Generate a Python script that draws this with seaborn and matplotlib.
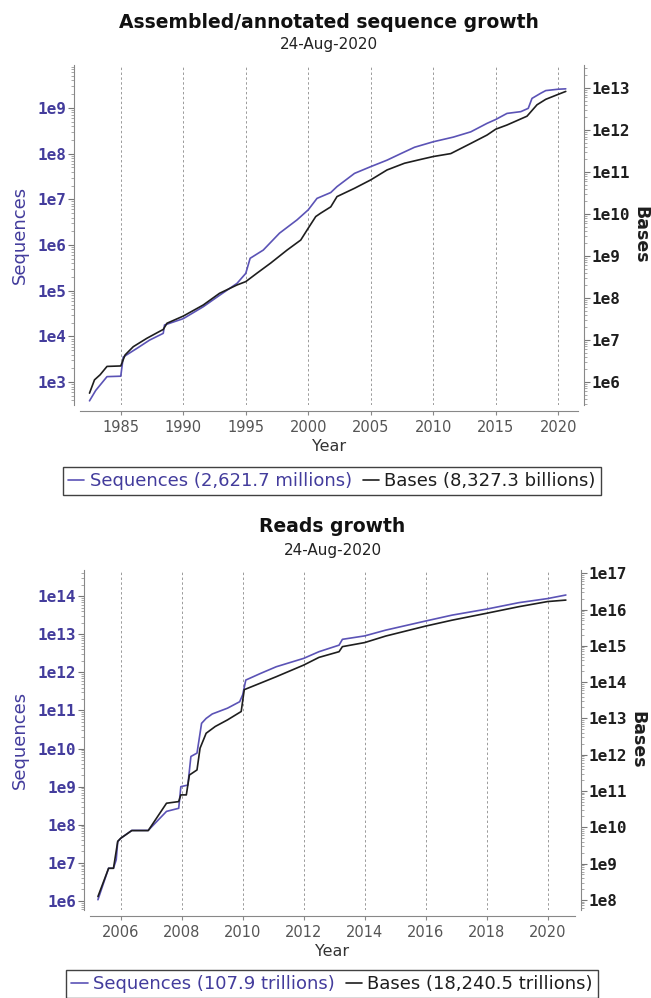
import numpy as np
import matplotlib
matplotlib.use("Agg")
import matplotlib.pyplot as plt
from matplotlib.ticker import LogLocator, FuncFormatter, NullFormatter, FixedLocator
from matplotlib.lines import Line2D
import seaborn as sns

# ---- dados (painel superior: assembled/annotated) ----
asm_seq_year = [1982.5, 1983.0, 1983.9, 1985.0, 1985.2, 1986.3, 1987.3, 1988.4, 1988.5,
                1990.0, 1991.6, 1992.9, 1994.3, 1995.0, 1995.35, 1996.4, 1997.7, 1999.1,
                2000.0, 2000.7, 2001.8, 2002.3, 2003.7, 2005.0, 2006.3, 2007.4, 2008.5,
                2010.0, 2011.6, 2013.0, 2014.3, 2015.0, 2015.9, 2017.0, 2017.6, 2017.9,
                2018.6, 2019.0, 2020.0, 2020.6]
asm_sequences = [390, 660, 1320, 1350, 3550, 5500, 8300, 11700, 17800,
                 24500, 44700, 79400, 1.45e5, 2.4e5, 5.13e5, 7.76e5, 1.82e6, 3.55e6,
                 5.9e6, 1.05e7, 1.41e7, 1.9e7, 3.7e7, 5.2e7, 7.2e7, 1.0e8, 1.38e8,
                 1.82e8, 2.3e8, 3.0e8, 4.6e8, 5.6e8, 7.6e8, 8.3e8, 9.8e8, 1.62e9,
                 2.1e9, 2.4e9, 2.57e9, 2.62e9]

asm_base_year = [1982.5, 1982.9, 1983.35, 1983.9, 1985.0, 1985.35, 1986.0, 1987.1, 1988.4,
                 1988.7, 1990.0, 1991.6, 1992.9, 1994.3, 1995.0, 1995.9, 1997.0, 1998.3,
                 1999.4, 2000.0, 2000.6, 2001.0, 2001.8, 2002.3, 2003.7, 2005.0, 2006.3,
                 2007.7, 2009.0, 2010.0, 2011.4, 2013.0, 2014.3, 2015.0, 2015.9, 2017.5,
                 2018.3, 2019.0, 2020.0, 2020.6]
asm_bases = [5.4e5, 1.12e6, 1.48e6, 2.34e6, 2.4e6, 4.4e6, 6.9e6, 1.1e7, 1.78e7,
             2.5e7, 3.7e7, 6.8e7, 1.29e8, 2.04e8, 2.45e8, 3.9e8, 6.8e8, 1.38e9,
             2.4e9, 4.6e9, 8.7e9, 1.05e10, 1.48e10, 2.6e10, 4.1e10, 6.5e10, 1.12e11,
             1.62e11, 2.0e11, 2.34e11, 2.75e11, 4.8e11, 7.6e11, 1.05e12, 1.32e12, 2.14e12,
             4.0e12, 5.4e12, 7.1e12, 8.33e12]

# ---- painel inferior: reads ----
reads_year = [2005.25, 2005.6, 2005.76, 2005.85, 2005.9, 2006.0, 2006.36, 2006.9, 2007.5,
              2007.9, 2007.97, 2008.2, 2008.3, 2008.5, 2008.65, 2008.8, 2009.0, 2009.5,
              2009.9, 2010.0, 2010.1, 2010.57, 2011.1, 2012.0, 2012.5, 2013.16, 2013.27,
              2014.0, 2014.69, 2016.0, 2016.87, 2018.0, 2019.06, 2020.0, 2020.6]
reads_sequences = [1.07e6, 7.2e6, 7.2e6, 1.2e7, 3.6e7, 4.4e7, 7.1e7, 7.1e7, 2.24e8,
                   2.7e8, 1.0e9, 1.1e9, 6.2e9, 7.6e9, 4.6e10, 6.2e10, 8.1e10, 1.15e11,
                   1.7e11, 2.6e11, 6.3e11, 9.3e11, 1.41e12, 2.34e12, 3.5e12, 5.2e12, 7.4e12,
                   9.1e12, 1.29e13, 2.24e13, 3.2e13, 4.6e13, 6.8e13, 8.7e13, 1.079e14]

reads_base_year = [2005.25, 2005.6, 2005.76, 2005.9, 2006.0, 2006.36, 2006.9, 2007.5, 2007.9,
                   2007.97, 2008.15, 2008.25, 2008.5, 2008.6, 2008.8, 2009.1, 2009.5, 2009.95,
                   2010.05, 2010.57, 2011.1, 2012.0, 2012.5, 2013.16, 2013.27, 2014.0, 2014.69,
                   2016.0, 2016.87, 2018.0, 2019.06, 2020.0, 2020.6]
reads_bases = [1.23e8, 7.4e8, 7.4e8, 4.1e9, 5.0e9, 8.1e9, 8.1e9, 4.6e10, 5.1e10,
               7.8e10, 7.8e10, 2.75e11, 3.8e11, 1.51e12, 3.9e12, 6.0e12, 9.1e12, 1.55e13,
               6.2e13, 9.3e13, 1.41e14, 2.95e14, 4.8e14, 6.9e14, 9.5e14, 1.23e15, 1.86e15,
               3.5e15, 5.1e15, 7.9e15, 1.2e16, 1.66e16, 1.824e16]

asm_xticks = [1985, 1990, 1995, 2000, 2005, 2010, 2015, 2020]
reads_xticks = [2006, 2008, 2010, 2012, 2014, 2016, 2018, 2020]

COR_SEQ = "#5b53b6"
COR_SEQ_TXT = "#433c9c"
COR_BASE = "#1e1e1e"

sns.set_style("white")
plt.rcParams["font.family"] = ["DejaVu Sans"]

fig = plt.figure(figsize=(6.51, 9.98), dpi=100)
W, H = 651, 998


def rect(x0, y0, x1, y1):
    return [x0 / W, 1 - y1 / H, (x1 - x0) / W, (y1 - y0) / H]


def fmt_exp(v, p):
    if v <= 0:
        return ""
    return f"1e{int(round(np.log10(v)))}"


def painel(box, titulo, sy, sv, by, bv, xlim, xticks, ylim_l, ylim_r,
           txt_seq, txt_base, leg_y):
    ax = fig.add_axes(rect(*box))
    sns.lineplot(x=sy, y=sv, ax=ax, color=COR_SEQ, linewidth=1.2, estimator=None)
    ax.set_yscale("log")
    ax.set_xlim(*xlim)
    ax.set_ylim(*ylim_l)

    ax2 = ax.twinx()
    sns.lineplot(x=by, y=bv, ax=ax2, color=COR_BASE, linewidth=1.2, estimator=None)
    ax2.set_yscale("log")
    ax2.set_ylim(*ylim_r)

    for a in (ax, ax2):
        a.spines["top"].set_visible(False)
        for s in ("left", "right", "bottom"):
            a.spines[s].set_position(("outward", 4))
            a.spines[s].set_color("#888888")
        a.yaxis.set_major_locator(LogLocator(base=10, numticks=30))
        a.yaxis.set_minor_locator(LogLocator(base=10, subs=np.arange(2, 10), numticks=30))
        a.yaxis.set_major_formatter(FuncFormatter(fmt_exp))
        a.yaxis.set_minor_formatter(NullFormatter())
        a.tick_params(axis="y", which="major", length=4, width=0.8, color="#777777")
        a.tick_params(axis="y", which="minor", length=2, width=0.6, color="#999999")
    ax.spines["right"].set_visible(False)
    ax2.spines["left"].set_visible(False)
    ax2.spines["bottom"].set_visible(False)

    ax.tick_params(axis="y", which="both", left=True, labelsize=11.5, labelcolor=COR_SEQ_TXT, pad=2)
    ax2.tick_params(axis="y", which="both", right=True, labelsize=11.5, labelcolor=COR_BASE, pad=2)
    for lab in ax.get_yticklabels() + ax2.get_yticklabels():
        lab.set_family("DejaVu Sans Mono")
        lab.set_fontweight("bold")

    ax.xaxis.set_major_locator(FixedLocator(xticks))
    ax.tick_params(axis="x", length=3, color="#888888", labelsize=10.5, labelcolor="#555555", bottom=True)
    ax.grid(False)
    ax2.grid(False)
    for xt in xticks:
        ax.axvline(xt, color="#9a9a9a", linestyle=(0, (2.5, 2.5)), linewidth=0.7, zorder=0)

    ax.set_xlabel("Year", fontsize=11.5, color="#333333", labelpad=3)
    ax.set_ylabel("Sequences", fontsize=13, color=COR_SEQ_TXT, labelpad=6)
    ax2.set_ylabel("Bases", fontsize=12.5, color=COR_BASE, fontweight="bold",
                   rotation=-90, labelpad=14)

    cx = (box[0] + box[2]) / 2 / W
    fig.text(cx, 1 - (box[1] - 43) / H, titulo, ha="center", va="center",
             fontsize=13.5, fontweight="bold", color="#111111")
    fig.text(cx, 1 - (box[1] - 20) / H, "24-Aug-2020", ha="center", va="center",
             fontsize=11, color="#222222")

    handles = [Line2D([], [], color=COR_SEQ, linewidth=1.2),
               Line2D([], [], color=COR_BASE, linewidth=1.2)]
    leg = fig.legend(handles, [txt_seq, txt_base], loc="center",
                     bbox_to_anchor=(332 / W, 1 - leg_y / H), ncol=2,
                     fontsize=13, frameon=True, fancybox=False, edgecolor="#111111",
                     handlelength=0.9, handletextpad=0.3, columnspacing=0.6,
                     borderpad=0.3, borderaxespad=0)
    leg.get_frame().set_linewidth(1.0)
    leg.get_texts()[0].set_color(COR_SEQ_TXT)
    leg.get_texts()[1].set_color(COR_BASE)
    return ax, ax2


painel((80, 65, 578, 405), "Assembled/annotated sequence growth",
       asm_seq_year, asm_sequences, asm_base_year, asm_bases,
       (1981.74, 2021.58), asm_xticks, (10 ** 2.5, 10 ** 9.94), (10 ** 5.45, 10 ** 13.55),
       "Sequences (2,621.7 millions)", "Bases (8,327.3 billions)", 481)

painel((90, 570, 575, 910), "Reads growth",
       reads_year, reads_sequences, reads_base_year, reads_bases,
       (2004.99, 2020.9), reads_xticks, (10 ** 5.76, 10 ** 14.69), (10 ** 7.72, 10 ** 17.09),
       "Sequences (107.9 trillions)", "Bases (18,240.5 trillions)", 984)

plt.savefig("out.png", dpi=100)
plt.close()
